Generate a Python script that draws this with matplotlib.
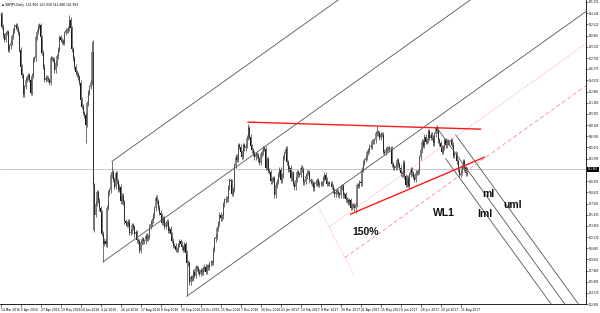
import matplotlib
matplotlib.use("Agg")
import matplotlib.pyplot as plt
import matplotlib.transforms as mtransforms

# daily closes, GBPJPY, 14 Mar 2016 .. 18 Aug 2017 (MT4 bar order)
CLOSES = [
    163.9, 162.2, 161.0, 160.3, 161.3, 161.4, 158.9, 159.4, 159.9, 160.8,
    161.6, 162.2, 162.4, 161.9, 161.3, 158.9, 156.5, 155.3, 152.6, 153.6,
    154.6, 155.0, 155.3, 154.6, 152.8, 155.2, 157.5, 157.7, 160.7, 161.5,
    162.2, 162.4, 160.7, 158.5, 156.5, 154.6, 154.9, 154.8, 154.6, 154.2,
    157.7, 157.6, 157.5, 156.0, 157.0, 158.0, 158.9, 160.7, 160.3, 160.1,
    159.9, 161.3, 161.7, 161.7, 161.9, 163.2, 162.0, 159.0, 157.7, 156.5,
    155.7, 155.4, 155.0, 154.2, 151.8, 150.8, 149.9, 149.6, 148.2, 151.3,
    152.8, 153.6, 154.3, 158.6,
    139.6,
    135.4, 137.0, 138.6, 137.4, 136.3,
    135.8, 132.7, 131.3, 131.7, 131.2,
    136.4, 138.6, 138.9, 141.0, 141.5,
    140.4, 139.4, 141.3, 140.2, 139.0,
    139.4, 137.3, 138.1, 137.2, 134.5,
    134.2, 134.0, 134.4, 132.8, 133.0,
    133.9, 133.6, 132.6, 132.9, 131.8,
    131.6, 130.3, 131.5, 131.9, 131.6,
    131.6, 132.4, 132.0, 132.3, 133.7,
    134.1, 134.6, 135.3, 136.3, 137.8,
    137.3, 136.4, 135.7, 135.3, 134.3,
    134.9, 133.7, 134.2, 134.4, 133.1,
    133.4, 132.6, 131.7, 131.0, 131.0,
    130.4, 130.5, 131.1, 131.6, 131.3,
    130.8, 130.4, 131.2, 130.0, 128.6,
    128.5, 125.8, 126.5, 126.3, 127.3,
    126.7, 127.9, 127.8, 127.3, 127.0,
    127.5, 127.2, 127.8, 128.0, 127.3,
    128.1, 127.9, 128.5, 128.6, 128.6,
    130.4, 131.9, 132.3, 133.5, 134.2,
    135.4, 134.9, 135.2, 136.9, 137.5,
    137.7, 137.6, 139.3, 140.3, 140.2,
    138.4, 139.0, 142.4, 143.7, 143.2,
    145.3, 145.1, 144.3, 143.7, 145.3,
    144.9, 145.2, 146.4, 147.7, 146.5,
    145.2, 144.6, 144.1, 143.6, 144.0,
    143.9, 143.3, 142.8, 144.0,
    144.3, 144.9, 144.8, 142.1, 143.3,
    141.7, 141.5, 140.2, 140.4, 140.6,
    138.2, 139.6, 140.1, 141.2, 141.8,
    140.3, 141.0, 143.6, 144.1, 144.8,
    142.9, 141.8, 142.1, 140.6, 141.3,
    139.8, 139.3, 140.4, 141.5, 141.2,
    141.1, 142.1, 141.8, 140.0, 140.1,
    140.9, 141.4, 141.5, 140.3, 140.2,
    139.9, 139.2, 139.8, 139.9, 140.3,
    139.7, 139.8, 139.8, 139.9, 140.6,
    141.1, 140.4, 139.8, 139.9, 139.8,
    139.8, 139.4, 138.9, 138.3, 138.7,
    138.7, 138.3, 138.2, 139.3, 139.5,
    138.2, 138.3, 137.6, 137.5, 137.2,
    137.5, 136.4, 136.7, 136.7, 136.3,
    136.9, 139.6, 139.5, 140.0, 139.9,
    141.9, 142.8, 143.2, 143.5, 144.3,
    144.6, 145.1, 145.1, 145.9, 145.9,
    146.0, 147.0, 147.2, 147.0, 146.4,
    146.9, 146.8, 144.4, 144.2, 144.7,
    144.9, 144.9, 144.8, 144.8, 142.6,
    142.2, 142.1, 142.3, 143.2, 142.6,
    142.1, 141.3, 141.2, 142.8, 140.9,
    139.7, 140.7, 139.5, 141.1, 141.9,
    141.3, 140.8, 140.4, 141.4, 141.4,
    141.6, 143.6, 144.6, 145.8, 145.2,
    146.5, 145.8, 146.0, 147.3, 146.4,
    146.8, 146.4, 145.6, 146.9, 147.8,
    147.4, 146.0, 145.6, 145.0, 144.4,
    145.0, 146.0, 145.3, 145.9, 145.7,
    145.7, 146.0, 145.4, 143.8, 144.1,
    144.0, 143.0, 141.8, 141.1, 141.4,
    142.3, 143.0, 142.0, 141.3, 141.86,
]

# long wicks that stand out on the chart: bar -> (high, low)
WICKS = {
    55: (163.9, None), 68: (None, 145.6), 73: (160.2, None),
    74: (160.3, 133.3), 75: (None, 133.0), 82: (None, 128.7),
    89: (143.0, None), 149: (None, 123.8), 198: (148.4, None),
    284: (None, 135.6), 301: (148.1, None), 326: (None, 139.4),
    348: (148.1, None),
}
WICK = 0.35

DATE_LABELS = [
    "14 Mar 2016", "5 Apr 2016", "27 Apr 2016", "19 May 2016", "10 Jun 2016",
    "4 Jul 2016", "26 Jul 2016", "17 Aug 2016", "8 Sep 2016", "30 Sep 2016",
    "24 Oct 2016", "15 Nov 2016", "7 Dec 2016", "30 Dec 2016", "23 Jan 2017",
    "14 Feb 2017", "8 Mar 2017", "30 Mar 2017", "21 Apr 2017", "15 May 2017",
    "6 Jun 2017", "28 Jun 2017", "20 Jul 2017", "11 Aug 2017",
]
BARS_PER_LABEL = 16

PRICE_LABELS = [
    165.720, 164.140, 162.520, 160.940, 159.320, 157.700, 156.170, 154.550,
    152.960, 151.360, 149.760, 148.160, 146.590, 145.010, 143.390, 140.200,
    138.620, 137.000, 135.430, 133.850, 132.230, 130.660, 129.040, 127.460,
    125.890, 124.270, 122.690,
]
BID = 141.863
HEADER = "GBPJPY,Daily  141.806 141.938 141.488 141.863"

# drawings anchored at (bar, price)
FORK_UP = [(82, 128.7), (89, 143.0), (149, 123.8)]
FORK_DOWN = [(349, 147.8), (364, 146.8), (356, 143.4)]
RED_LINES = [((198, 148.6), (384, 147.6)), ((280, 135.5), (387, 143.6))]
PINK_BASE = ((254, 136.65), (283, 126.7))
PINK_LEVELS = [0.30, 0.74]
LABELS = [("150%", 281.5, 133.0), ("WL1", 345.5, 135.6), ("ml", 385.5, 138.3),
          ("lml", 381.5, 135.5), ("uml", 402.0, 136.8)]

X_MAX = 468.3
Y_MIN, Y_MAX = 122.69, 166.0


def pitchfork(ax, p1, p2, p3, x_end, **kw):
    mid = ((p2[0] + p3[0]) / 2, (p2[1] + p3[1]) / 2)
    slope = (mid[1] - p1[1]) / (mid[0] - p1[0])
    for x0, y0 in (p1, p2, p3):
        ax.plot([x0, x_end], [y0, y0 + slope * (x_end - x0)], **kw)
    return slope


fig = plt.figure(figsize=(6, 3.13), dpi=100)
ax = fig.add_axes([0, 9 / 313, 586 / 600, 304 / 313])
ax.set_xlim(-0.5, X_MAX)
ax.set_ylim(Y_MIN, Y_MAX)

# candles
for i, c in enumerate(CLOSES):
    o = CLOSES[i - 1] if i > 0 else c
    hi, lo = max(o, c) + WICK, min(o, c) - WICK
    if i in WICKS:
        h2, l2 = WICKS[i]
        hi = h2 if h2 is not None else hi
        lo = l2 if l2 is not None else lo
    ax.vlines(i, lo, hi, color="#3a3a3a", lw=0.5)
    ax.bar(i, max(abs(c - o), 0.05), bottom=min(o, c), width=0.8,
           color="#111111" if c < o else "#8c8c8c", lw=0)

# bid line
ax.axhline(BID, color="#b8c0c8", lw=0.6, zorder=1)

grey = dict(color="#555555", lw=0.6)
slope = pitchfork(ax, *FORK_UP, X_MAX, **grey)
pitchfork(ax, *FORK_DOWN, X_MAX, **grey)

# pink parallels starting from a short base line
(bx0, by0), (bx1, by1) = PINK_BASE
ax.plot([bx0, bx1], [by0, by1], color="#ffb3b3", lw=0.6, ls=(0, (1, 1)))
for k, lev in enumerate(PINK_LEVELS):
    x0 = bx0 + (bx1 - bx0) * lev
    y0 = by0 + (by1 - by0) * lev
    ax.plot([x0, X_MAX], [y0, y0 + slope * (X_MAX - x0)], color="#ff8c8c",
            lw=0.6, ls=(0, (5, 3)) if k else (0, (1, 1.5)))

for (x0, y0), (x1, y1) in RED_LINES:
    ax.plot([x0, x1], [y0, y1], color="#ff1a1a", lw=1.0)

for txt, x, y in LABELS:
    ax.text(x, y, txt, fontsize=7.5, fontweight="bold", family="Liberation Sans",
            ha="left", va="center", color="#111111")

# axes styling
for side in ("left", "top"):
    ax.spines[side].set_visible(False)
for side in ("right", "bottom"):
    ax.spines[side].set_linewidth(0.6)
ax.yaxis.tick_right()
ax.set_yticks(PRICE_LABELS, [f"{v:.3f}" for v in PRICE_LABELS])
ax.set_xticks([k * BARS_PER_LABEL for k in range(len(DATE_LABELS))], DATE_LABELS)
for t in ax.get_xticklabels():
    t.set_horizontalalignment("left")
ax.tick_params(axis="y", length=1.5, width=0.4, labelsize=1.8, pad=0.6)
ax.tick_params(axis="x", length=2, width=0.4, labelsize=2.2, pad=0.6)

trans = mtransforms.blended_transform_factory(ax.transAxes, ax.transData)
ax.text(1.003, BID, f"{BID:.3f}", transform=trans, fontsize=1.8, color="white",
        va="center", ha="left",
        bbox=dict(facecolor="black", edgecolor="none", pad=0.4))

fig.text(2 / 600, 1 - 5 / 313, "\u25aa " + HEADER, fontsize=2.2, va="center")

fig.savefig("out.png", dpi=100)
